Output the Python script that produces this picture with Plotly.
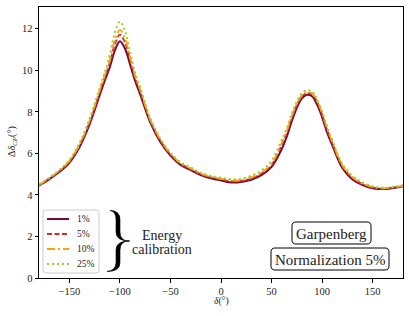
import plotly.graph_objects as go

delta = [-180, -170, -160, -150, -140, -130, -120, -115, -110, -105, -100, -95, -90, -85, -80, -70,
         -60, -50, -40, -30, -20, -10, 0, 10, 20, 30, 40, 50, 60, 65, 70, 75, 80, 85, 90, 95, 100,
         105, 110, 120, 130, 140, 150, 160, 170, 180]
s1 = [4.45, 4.75, 5.1, 5.55, 6.3, 7.4, 8.8, 9.5, 10.15, 10.95, 11.4, 11.05, 10.3, 9.5, 8.85, 7.5,
      6.55, 5.9, 5.45, 5.2, 4.96, 4.8, 4.7, 4.6, 4.62, 4.73, 4.95, 5.35, 6.2, 6.8, 7.55, 8.2, 8.65,
      8.82, 8.75, 8.35, 7.75, 7.0, 6.4, 5.3, 4.75, 4.48, 4.32, 4.28, 4.33, 4.42]
s5 = [4.47, 4.78, 5.14, 5.6, 6.37, 7.5, 8.95, 9.65, 10.35, 11.25, 11.72, 11.35, 10.5, 9.65, 9.0, 7.58,
      6.62, 5.95, 5.5, 5.25, 5.0, 4.85, 4.75, 4.66, 4.68, 4.8, 5.03, 5.45, 6.4, 6.98, 7.72, 8.32, 8.75,
      8.9, 8.85, 8.48, 7.87, 7.12, 6.5, 5.38, 4.82, 4.52, 4.36, 4.3, 4.35, 4.44]
s10 = [4.48, 4.8, 5.17, 5.63, 6.42, 7.57, 9.03, 9.75, 10.5, 11.45, 11.95, 11.55, 10.65, 9.75, 9.08, 7.63,
       6.67, 5.99, 5.53, 5.28, 5.03, 4.88, 4.78, 4.7, 4.72, 4.85, 5.08, 5.52, 6.5, 7.08, 7.8, 8.4, 8.82,
       8.96, 8.9, 8.55, 7.94, 7.2, 6.56, 5.43, 4.86, 4.55, 4.38, 4.32, 4.36, 4.45]
s25 = [4.5, 4.83, 5.2, 5.68, 6.5, 7.67, 9.15, 9.9, 10.75, 11.8, 12.35, 11.9, 10.9, 9.9, 9.2, 7.7,
       6.72, 6.04, 5.58, 5.33, 5.07, 4.92, 4.83, 4.76, 4.78, 4.93, 5.18, 5.65, 6.65, 7.22, 7.92, 8.5, 8.9,
       9.04, 8.98, 8.62, 8.02, 7.3, 6.65, 5.5, 4.92, 4.6, 4.42, 4.35, 4.38, 4.47]
labels = ["1%", "5%", "10%", "25%"]
colors = ["#730c3b", "#d42a2a", "#ffa20a", "#9acd32"]
dashes = ["solid", "5px,2.5px", "8px,3px,2px,3px", "2px,3px"]
widths = [2, 1.8, 1.8, 2]
xticks = [-150, -100, -50, 0, 50, 100, 150]
yticks = [0, 2, 4, 6, 8, 10, 12]

FONT = "Liberation Serif"
W, H = 409, 316
ML, MR, MT, MB = 39, 6, 7, 38
PW, PH = W - ML - MR, H - MT - MB

fig = go.Figure()
for lab, ys, c, d, w in zip(labels, [s1, s5, s10, s25], colors, dashes, widths):
    fig.add_trace(go.Scatter(x=delta, y=ys, mode="lines", name=lab, showlegend=False,
                             line=dict(color=c, width=w, dash=d, shape="spline", smoothing=1.0)))


def px2paper(x, y):
    return (x - ML) / PW, (H - MB - y) / PH


def P(x, y):
    a, b = px2paper(x, y)
    return f"{a:.5f},{b:.5f}"


def rrect(x0, y0, x1, y1, r):
    return (f"M {P(x0 + r, y0)} L {P(x1 - r, y0)} Q {P(x1, y0)} {P(x1, y0 + r)} "
            f"L {P(x1, y1 - r)} Q {P(x1, y1)} {P(x1 - r, y1)} L {P(x0 + r, y1)} "
            f"Q {P(x0, y1)} {P(x0, y1 - r)} L {P(x0, y0 + r)} Q {P(x0, y0)} {P(x0 + r, y0)} Z")


def brace(x0t, x0b, xa, x1, ytop, ybot, ymid, r, h):
    return (f"M {P(x0t, ytop)} Q {P(xa + h, ytop)} {P(xa + h, ytop + r)} "
            f"L {P(xa + h, ymid - r)} Q {P(xa + h, ymid)} {P(x1, ymid)} "
            f"Q {P(xa + h, ymid)} {P(xa + h, ymid + r)} L {P(xa + h, ybot - r)} "
            f"Q {P(xa + h, ybot)} {P(x0b, ybot)} "
            f"Q {P(xa - h, ybot - 1)} {P(xa - h, ybot - r)} L {P(xa - h, ymid + r)} "
            f"Q {P(xa - h, ymid)} {P(x1, ymid)} Q {P(xa - h, ymid)} {P(xa - h, ymid - r)} "
            f"L {P(xa - h, ytop + r)} Q {P(xa - h, ytop + 1)} {P(x0t, ytop)} Z")


def text(t, x, y, size, xanchor="center", **kw):
    a, b = px2paper(x, y)
    return dict(text=t, x=a, y=b, xref="paper", yref="paper", showarrow=False,
                xanchor=xanchor, yanchor="middle",
                font=dict(family=FONT, size=size, color="#222"), **kw)


shapes = [
    dict(type="path", xref="paper", yref="paper", path=rrect(292, 222, 371, 244, 4),
         line=dict(color="black", width=1), fillcolor="white", layer="above"),
    dict(type="path", xref="paper", yref="paper", path=rrect(271, 248, 389, 270, 4),
         line=dict(color="black", width=1), fillcolor="white", layer="above"),
    dict(type="path", xref="paper", yref="paper",
         path=brace(110, 107, 118, 129.5, 210.5, 271.5, 241, 9, 2),
         line=dict(color="black", width=0.6), fillcolor="black"),
    # legend frame
    dict(type="path", xref="paper", yref="paper", path=rrect(43, 210, 99, 273, 3),
         line=dict(color="#cccccc", width=1), fillcolor="white", layer="above"),
]
annotations = [
    text("Garpenberg", 331.5, 233.5, 15),
    text("Normalization 5%", 330, 259.5, 15),
    text("Energy", 162, 235.5, 14),
    text("calibration", 161.5, 249.5, 14),
    text("<i>δ</i>(°)", 221, 301, 9.5),
    text("Δ<i>δ</i><sub><i>CP</i></sub>(°)", 12, 142, 10, textangle=-90),
]
# manual legend entries
for i, (lab, c, d, w) in enumerate(zip(labels, colors, dashes, widths)):
    yy = 219 + 15 * i
    a0, b0 = px2paper(47, yy)
    a1, _ = px2paper(69, yy)
    shapes.append(dict(type="line", xref="paper", yref="paper", x0=a0, x1=a1, y0=b0, y1=b0,
                       line=dict(color=c, width=w, dash=d), layer="above"))
    annotations.append(text(lab, 75, yy, 9.5, xanchor="left"))

fig.update_layout(
    width=W, height=H, margin=dict(l=ML, r=MR, t=MT, b=MB, autoexpand=False),
    plot_bgcolor="white", paper_bgcolor="white",
    font=dict(family=FONT, size=10.5, color="#222"),
    shapes=shapes, annotations=annotations, showlegend=False,
    xaxis=dict(range=[-180, 180], tickvals=xticks,
               ticktext=[f"−{-v}" if v < 0 else str(v) for v in xticks],
               showgrid=False, zeroline=False, showline=True, linecolor="black", linewidth=1,
               mirror=True, ticks="outside", ticklen=3.5, tickcolor="black", automargin=False),
    yaxis=dict(range=[0, 13.05], tickvals=yticks, showgrid=False, zeroline=False, showline=True,
               linecolor="black", linewidth=1, mirror=True, ticks="outside", ticklen=3.5,
               tickcolor="black", automargin=False),
)

fig.write_html("out.html", config={"displayModeBar": False},
               post_script="document.body.style.margin='0';")
